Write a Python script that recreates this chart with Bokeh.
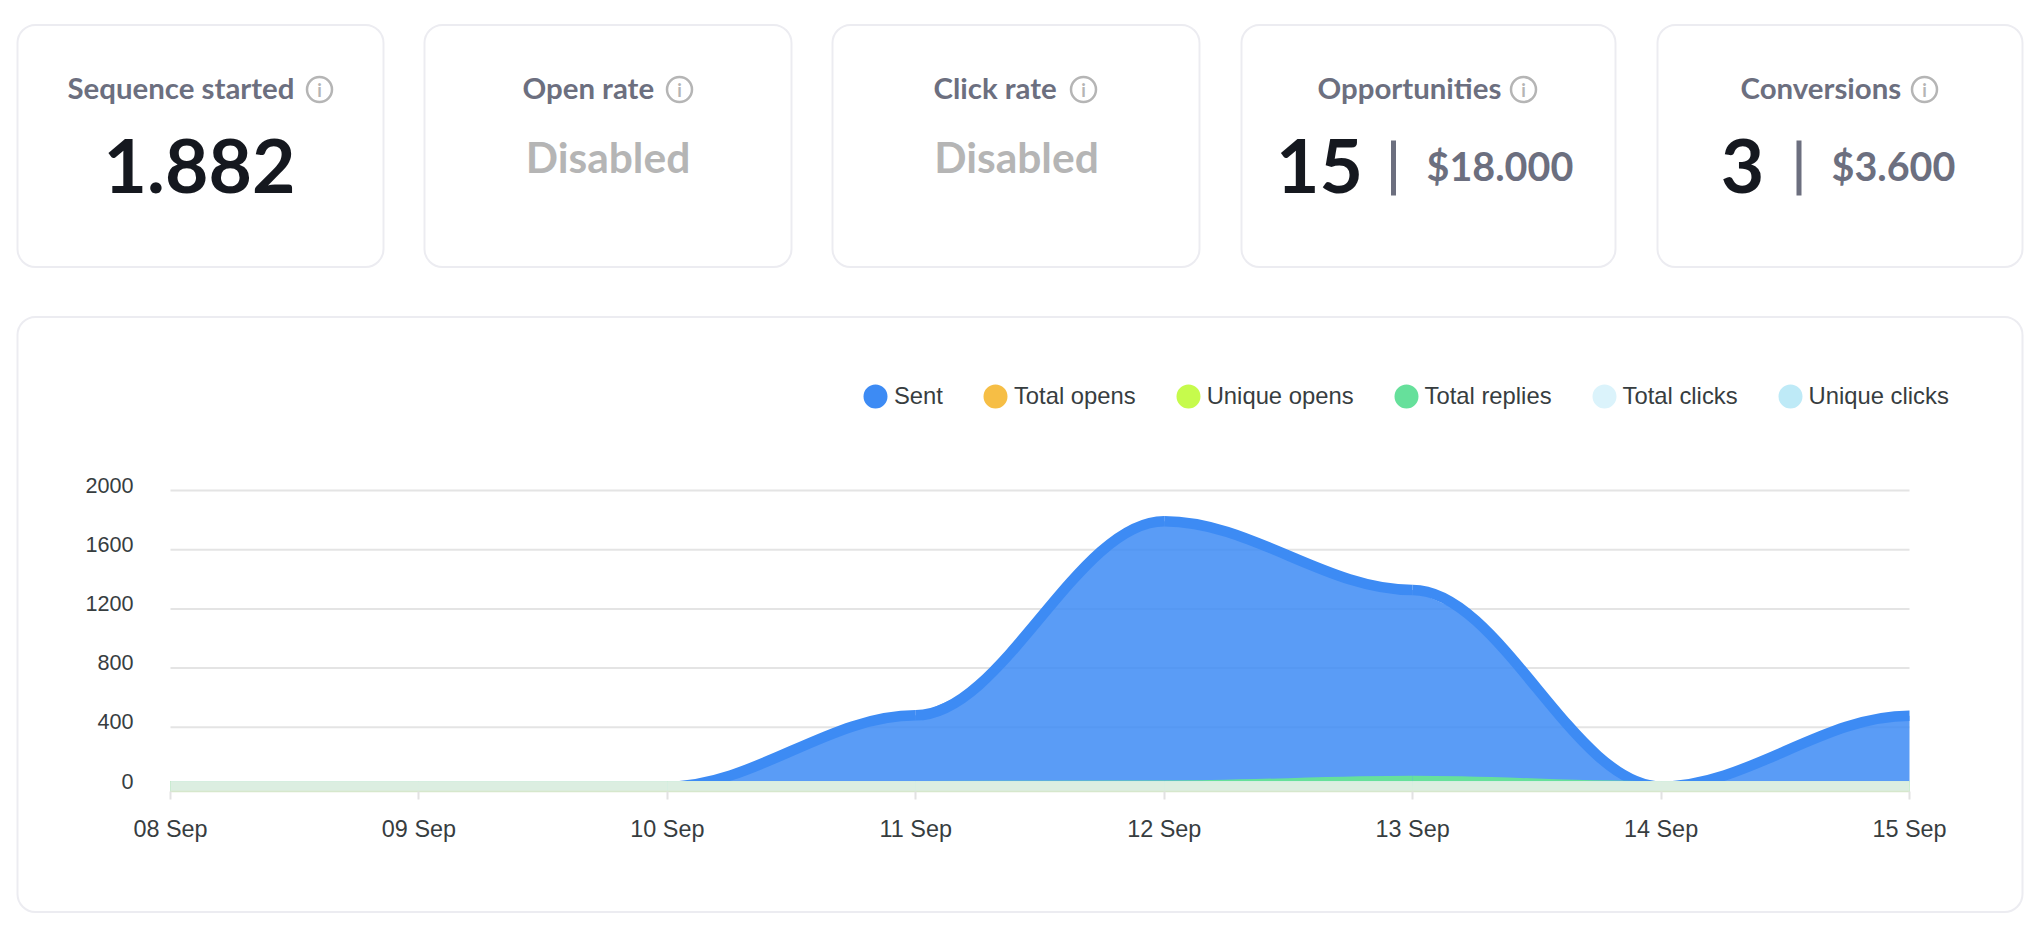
from bokeh.embed import file_html
from bokeh.resources import INLINE
from bokeh.plotting import figure
from bokeh.models import (BoxAnnotation, ColumnDataSource, FixedTicker, Label, Legend,
                          LegendItem, LinearAxis, Range1d)

# ---------- chart data ----------
dates = ["08 Sep", "09 Sep", "10 Sep", "11 Sep", "12 Sep", "13 Sep", "14 Sep", "15 Sep"]
sent = [0, 0, 0, 481, 1793, 1328, 0, 478]
total_opens = [0, 0, 0, 0, 0, 0, 0, 0]
unique_opens = [0, 0, 0, 0, 0, 0, 0, 0]
total_replies = [0, 0, 0, 1, 5, 37, 0, 0]
total_clicks = [0, 0, 0, 0, 0, 0, 0, 0]
unique_clicks = [0, 0, 0, 0, 0, 0, 0, 0]
y_ticks = [0, 400, 800, 1200, 1600, 2000]

sent_area_days = [2, 2.25, 2.5, 2.75, 3, 3.25, 3.5, 3.625, 3.75, 3.875, 4, 4.125, 4.25, 4.5, 4.75,
                  5, 5.25, 5.375, 5.5, 5.625, 5.75, 5.875, 6, 6.25, 6.5, 6.75, 7]
sent_area_top = [0, 83, 245, 409, 481, 665, 1144, 1369, 1590, 1739, 1793, 1773, 1712, 1557, 1402,
                 1328, 1144, 919, 664, 428, 207, 63, 0, 80, 248, 401, 478]

# ---------- KPI cards ----------
card_titles = ["Sequence started", "Open rate", "Click rate", "Opportunities", "Conversions"]
card_title_x = [67, 522, 933, 1317, 1740]
card_icon_x = [319, 679, 1083, 1523, 1924]
card_left = [17, 424, 832, 1241, 1657]
card_right = [383, 791, 1199, 1615, 2022]
sequence_started = "1.882"
disabled_text = "Disabled"
opportunities = ("15", "$18.000")
conversions = ("3", "$3.600")

# ---------- styles ----------
SENT_C = "#3D8BF4"
OPENS_C = "#F6BE45"
UOPENS_C = "#C6FB4C"
REPLIES_C = "#66E09B"
CLICKS_C = "#DBF3FB"
UCLICKS_C = "#BEEAF7"
BAND_C = "#DCEEE1"
TITLE_C = "#6C6F7F"
DARK_C = "#15181F"
MUTE_C = "#B5B5B5"
BORDER_C = "#ECECF1"
AXIS_TXT = "#373D3F"
CARD_FONT = "Lato"

W, H = 2030, 918
X0, X7, ZERO = 170, 1909, 786      # page pixels of 08 Sep, 15 Sep and value 0
BAND_BOTTOM = 791
PX_PER_DAY = (X7 - X0) / (len(dates) - 1)
PX_PER_UNIT = 0.148

# The frame fills the canvas, so that cards and legend may be placed around the chart
p = figure(width=W, height=H, output_backend="svg", toolbar_location=None,
           x_axis_location=None, y_axis_location=None,
           x_range=Range1d(-X0 / PX_PER_DAY, (W - X0) / PX_PER_DAY),
           y_range=Range1d(-(H - ZERO) / PX_PER_UNIT, ZERO / PX_PER_UNIT),
           min_border=0)
p.outline_line_color = None
p.background_fill_color = "white"
p.border_fill_color = "white"
p.grid.visible = False

last_day = len(dates) - 1
p.segment(x0=[0] * len(y_ticks), x1=[last_day] * len(y_ticks), y0=y_ticks, y1=y_ticks,
          line_color="#E4E4E4", line_width=2, level="underlay")

# y labels sit a little above their grid lines: their axis runs on a slightly shifted range
shift = -5.5 / PX_PER_UNIT
p.extra_y_ranges = {"labels": Range1d(p.y_range.start + shift, p.y_range.end + shift)}
yax = LinearAxis(y_range_name="labels", ticker=FixedTicker(ticks=y_ticks),
                 fixed_location=0, bounds=(0, y_ticks[-1]))
yax.axis_line_color = None
yax.major_tick_line_color = None
yax.minor_tick_line_color = None
yax.major_tick_out = 0
yax.major_tick_in = 0
yax.major_label_standoff = 37
yax.major_label_text_font = "Liberation Sans"
yax.major_label_text_font_size = "21.6px"
yax.major_label_text_color = AXIS_TXT
yax.major_label_text_baseline = "alphabetic"
p.add_layout(yax, "left")

xax = LinearAxis(ticker=FixedTicker(ticks=list(range(len(dates)))),
                 fixed_location=-(BAND_BOTTOM - ZERO) / PX_PER_UNIT, bounds=(0, last_day))
xax.major_label_overrides = {i: d for i, d in enumerate(dates)}
xax.axis_line_color = "#D6E7CC"
xax.axis_line_width = 1.5
xax.major_tick_line_color = "#E2E2E2"
xax.major_tick_line_width = 2
xax.major_tick_in = 0
xax.major_tick_out = 8
xax.minor_tick_line_color = None
xax.major_label_standoff = 16
xax.major_label_text_font = "Liberation Sans"
xax.major_label_text_font_size = "23.4px"
xax.major_label_text_color = AXIS_TXT
p.add_layout(xax, "below")

# series
days = list(range(len(dates)))
p.varea(x=sent_area_days, y1=[0] * len(sent_area_days), y2=sent_area_top,
        fill_color=SENT_C, fill_alpha=0.85)


def curve(values, color):
    """One smooth series: a Bezier between each pair of neighbouring days."""
    src = ColumnDataSource(dict(
        x0=days[:-1], y0=values[:-1], x1=days[1:], y1=values[1:],
        cx0=[d + 0.35 for d in days[:-1]], cy0=values[:-1],
        cx1=[d - 0.35 for d in days[1:]], cy1=values[1:]))
    return p.bezier(x0="x0", y0="y0", x1="x1", y1="y1", cx0="cx0", cy0="cy0",
                    cx1="cx1", cy1="cy1", source=src, line_color=color, line_width=10.5)


curve(sent, SENT_C)
curve(total_opens, OPENS_C)
curve(unique_opens, UOPENS_C)
curve(total_replies, REPLIES_C)
curve(total_clicks, CLICKS_C)
curve(unique_clicks, BAND_C)

# legend: the thick outline brings the legend dots up to the reference's size
nan = float("nan")
items = []
for label, color in [("Sent", SENT_C), ("Total opens", OPENS_C), ("Unique opens", UOPENS_C),
                     ("Total replies", REPLIES_C), ("Total clicks", CLICKS_C),
                     ("Unique clicks", UCLICKS_C)]:
    r = p.circle(x=[nan], y=[nan], radius=1, fill_color=color, line_color=color, line_width=12)
    items.append(LegendItem(label=label, renderers=[r]))
legend = Legend(items=items, orientation="horizontal", location=(860, H - 411),
                glyph_width=30, glyph_height=30, label_standoff=4, spacing=37,
                margin=0, padding=0, background_fill_alpha=0, border_line_color=None,
                label_text_font="Liberation Sans", label_text_font_size="23.8px",
                label_text_color=AXIS_TXT, label_height=30)
p.add_layout(legend)


def fy(py):
    return H - py


def box(l, r, t, b, radius, line_color=None, fill_color=None, line_width=2):
    p.add_layout(BoxAnnotation(left=l, right=r, top=fy(t), bottom=fy(b),
                               left_units="screen", right_units="screen",
                               top_units="screen", bottom_units="screen",
                               border_radius=radius, level="underlay",
                               line_color=line_color, line_width=line_width, line_alpha=1,
                               fill_color=fill_color, fill_alpha=1 if fill_color else 0))


def text(t, x, baseline, size, color, align="left", style="bold", font=CARD_FONT):
    # the rendered baseline falls about 0.37 of the font size below the anchor
    p.add_layout(Label(text=t, x=x, y=fy(baseline - 0.37 * size), x_units="screen", y_units="screen",
                       text_font=font, text_font_size=f"{size}px", text_font_style=style,
                       text_color=color, text_align=align, text_baseline="alphabetic"))


# cards
for l, r in zip(card_left, card_right):
    box(l, r, 24.5, 266.5, 18, line_color=BORDER_C)
box(17, 2022, 316.5, 911.5, 18, line_color=BORDER_C)

for t, tx, ix in zip(card_titles, card_title_x, card_icon_x):
    text(t, tx, 98, 29.4, TITLE_C)
    box(ix - 12.5, ix + 12.5, 76.5, 101.5, 13, line_color=MUTE_C, line_width=2.5)
    text("i", ix, 96, 18, MUTE_C, align="center", style="bold")

text(sequence_started, 199, 193, 75, DARK_C, align="center")
text(disabled_text, 607.5, 172, 42.5, MUTE_C, align="center")
text(disabled_text, 1016, 172, 42.5, MUTE_C, align="center")
text(opportunities[0], 1319, 193, 75, DARK_C, align="center")
text(opportunities[1], 1426, 180, 39.5, TITLE_C)
text(conversions[0], 1742, 193, 75, DARK_C, align="center")
text(conversions[1], 1831, 180, 39.5, TITLE_C)
box(1390.5, 1395.5, 140, 195, 0, fill_color=TITLE_C, line_color=None)
box(1796, 1801, 140, 195, 0, fill_color=TITLE_C, line_color=None)

open("out.html", "w").write(file_html(p, INLINE))
